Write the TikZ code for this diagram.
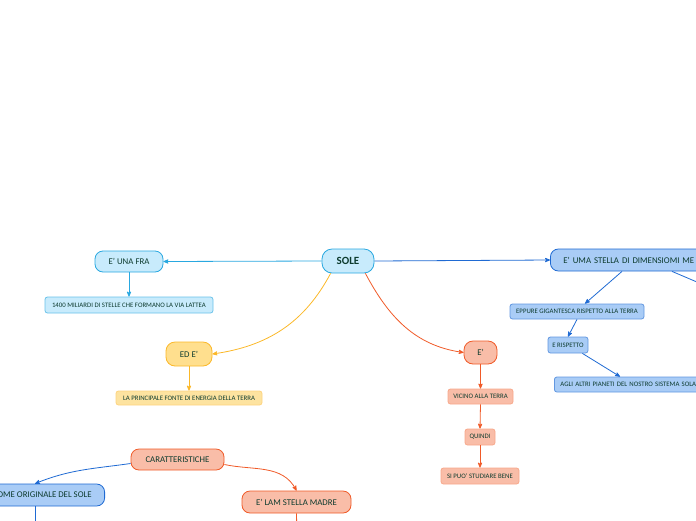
\documentclass[tikz,border=0pt]{standalone}
\usepackage{fontspec}
\setmainfont{Carlito}
\usetikzlibrary{arrows}
\definecolor{ink}{HTML}{0D3B2E}
\definecolor{skyfill}{HTML}{C8EBFC}
\definecolor{skyline}{HTML}{29A8E0}
\definecolor{bluefill}{HTML}{A9CCF6}
\definecolor{blueline}{HTML}{1F6AD3}
\definecolor{sunfill}{HTML}{FFDF8E}
\definecolor{sunline}{HTML}{FBB829}
\definecolor{sunleaf}{HTML}{FDE3A0}
\definecolor{rustfill}{HTML}{F9BDA8}
\definecolor{rustline}{HTML}{F05A28}
\definecolor{rustleaf}{HTML}{F7A88B}

\begin{document}
\begin{tikzpicture}[x=1pt,y=-1pt, line width=0.8pt,
    topic/.style={rounded corners=8pt, text=ink, inner sep=0pt,
        font={\fontsize{8.8}{10}\selectfont}, minimum height=22pt},
    leaf/.style={rounded corners=2.5pt, text=ink, inner sep=0pt,
        font={\fontsize{6.8}{7}\selectfont}, minimum height=15pt},
    link/.style={->,>=stealth'}]
\clip (0,0) rectangle (696,520);

\node[topic,fill=skyfill,draw=skyline,rounded corners=10pt,minimum width=52pt,
    minimum height=24pt,font={\fontsize{11}{12}\selectfont\bfseries}] (sole) at (348,261) {SOLE};

% ramo azzurro
\node[topic,fill=skyfill,draw=skyline,minimum width=68pt,minimum height=21pt] (fra) at (129,261.5) {E' UNA FRA};
\node[leaf,fill=skyfill,draw=skyline!70,minimum width=168pt,minimum height=16pt] (lattea) at (129,305) {1400 MILIARDI DI STELLE CHE FORMANO LA VIA LATTEA};
\draw[link,skyline] (sole.west) -- (fra.east);
\draw[link,skyline] (fra.south) -- (lattea.north);

% ramo blu
\node[topic,fill=bluefill,draw=blueline,anchor=west,inner xsep=13pt,text width=190pt,align=left] (uma) at (550,260) {E' UMA STELLA DI DIMENSIOMI ME};
\node[leaf,fill=bluefill,draw=blueline!70,minimum width=134pt] (eppure) at (577,311.5) {EPPURE GIGANTESCA RISPETTO ALLA TERRA};
\node[leaf,fill=bluefill,draw=blueline!70,minimum width=40pt,minimum height=16pt] (rispetto) at (568,345) {E RISPETTO};
\node[leaf,fill=bluefill,draw=blueline!70,anchor=west,inner xsep=6pt,text width=170pt,align=left] (agli) at (554,384.5) {AGLI ALTRI PIANETI DEL NOSTRO SISTEMA SOLA};
\coordinate (umaout) at (744,302);
\draw[link,blueline] (sole.east) -- (uma.west);
\draw[link,blueline] ([xshift=72pt]uma.south west) -- ([xshift=8pt]eppure.north);
\draw[blueline] ([xshift=122pt]uma.south west) -- (umaout);
\draw[link,blueline] (eppure.south) -- (rispetto.north);
\draw[link,blueline] ([xshift=-6pt]rispetto.south east) -- ([xshift=66pt]agli.north west);

% ramo giallo
\node[topic,fill=sunfill,draw=sunline,rounded corners=9pt,minimum width=46pt,minimum height=24pt] (ede) at (189,354) {ED E'};
\node[leaf,fill=sunleaf,draw=sunline!60,minimum width=146pt,minimum height=14pt] (fonte) at (189,398) {LA PRINCIPALE FONTE DI ENERGIA DELLA TERRA};
\draw[link,sunline] ([xshift=9pt]sole.south west) to[out=-118,in=8] (ede.east);
\draw[link,sunline] (ede.south) -- (fonte.north);

% ramo arancio
\node[topic,fill=rustfill,draw=rustline,rounded corners=9pt,minimum width=33pt,minimum height=23pt] (e) at (480.5,352.5) {E'};
\node[leaf,fill=rustfill,draw=rustleaf,minimum width=65pt] (vicino) at (480.5,396.5) {VICINO ALLA TERRA};
\node[leaf,fill=rustfill,draw=rustleaf,minimum width=30pt,minimum height=16pt] (quindi) at (480,437) {QUINDI};
\node[leaf,fill=rustfill,draw=rustleaf,minimum width=78pt,minimum height=16pt] (studiare) at (480,476) {SI PUO' STUDIARE BENE};
\draw[link,rustline] ([xshift=-9pt]sole.south east) to[out=-62,in=172] (e.west);
\draw[link,rustline] (e.south) -- (vicino.north);
\draw[link,rustline] (vicino.south) -- (quindi.north);
\draw[link,rustline] (quindi.south) -- (studiare.north);

% caratteristiche
\node[topic,fill=rustfill,draw=rustline,minimum width=93pt,minimum height=21pt] (car) at (177.5,459.5) {CARATTERISTICHE};
\node[topic,fill=bluefill,draw=blueline,anchor=east,inner xsep=13pt] (nome) at (105,495) {NOME ORIGINALE DEL SOLE};
\node[topic,fill=rustfill,draw=rustline,minimum width=109pt] (lam) at (296.5,502) {E' LAM STELLA MADRE};
\coordinate (nomeout) at (35,540);
\coordinate (lamout) at (297,540);
\draw[link,blueline] ([yshift=-4pt]car.west) to[out=188,in=22] ([xshift=-70pt]nome.north east);
\draw[link,rustline] ([yshift=-5pt]car.east) to[out=-12,in=118] (lam.north);
\draw[blueline] ([xshift=-70pt]nome.south east) -- (nomeout);
\draw[rustline] (lam.south) -- (lamout);
\end{tikzpicture}
\end{document}
